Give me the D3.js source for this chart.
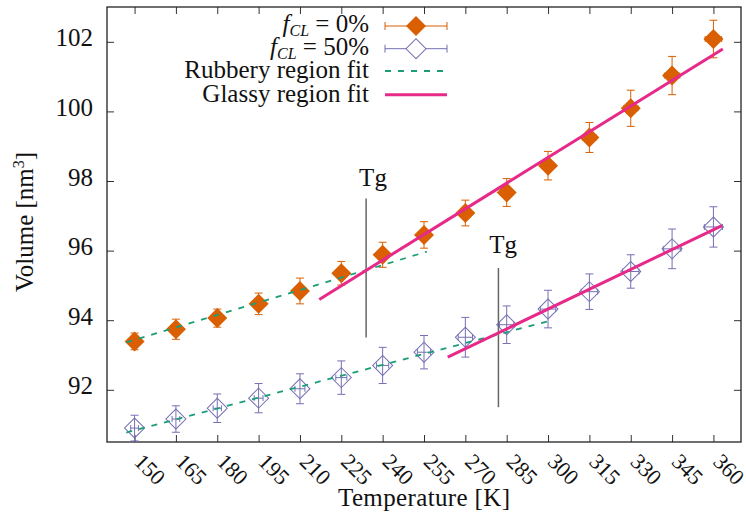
<!DOCTYPE html>
<html>
<head>
<meta charset="utf-8">
<script src="https://cdn.jsdelivr.net/npm/d3@7"></script>
<style>
  body { margin: 0; background: #fff; }
</style>
</head>
<body>
<svg width="746" height="517"></svg>
<script>
// values
const temps   = [150, 165, 180, 195, 210, 225, 240, 255, 270, 285, 300, 315, 330, 345, 360];
const vol0    = [93.39, 93.74, 94.06, 94.47, 94.84, 95.35, 95.88, 96.45, 97.08, 97.67, 98.44, 99.25, 100.09, 101.03, 102.08];
const err0    = [0.24, 0.29, 0.26, 0.31, 0.37, 0.34, 0.36, 0.38, 0.37, 0.40, 0.41, 0.43, 0.52, 0.55, 0.54];
const xerr0   = [1.0, 1.1, 1.2, 1.3, 1.4, 1.6, 1.7, 1.9, 2.0, 2.2, 2.3, 2.5, 2.6, 2.8, 3.0];
const vol50   = [90.90, 91.16, 91.47, 91.76, 92.03, 92.35, 92.70, 93.08, 93.51, 93.87, 94.32, 94.82, 95.40, 96.05, 96.68];
const err50   = [0.37, 0.38, 0.41, 0.42, 0.43, 0.48, 0.52, 0.48, 0.57, 0.54, 0.54, 0.51, 0.48, 0.57, 0.58];
const xerr50  = [1.4, 1.4, 1.5, 1.6, 1.8, 2.0, 2.2, 2.4, 2.6, 2.6, 2.8, 3.0, 3.0, 3.2, 3.3];
const yTicks  = [92, 94, 96, 98, 100, 102];

// linear fits: [intercept, slope, Tstart, Tend]
const rubberyFit = [[89.85, 0.0239, 147, 256], [87.70, 0.0209, 147, 302]];
const glassyFit  = [[83.93, 0.04915, 217, 363.4], [82.92, 0.0380, 263.6, 363.1]];
// Tg markers: temperature, bottom, top
const tgTemp  = [234, 282];
const tgRange = [[93.5, 97.5], [91.5, 95.5]];
const tgLabel = [[236.5, 97.86], [283.7, 95.94]];

const colOrange = "#d95f02", colPurple = "#7570b3", colGreen = "#1b9e77", colPink = "#e7298a";
const serif = "'Liberation Serif', 'Times New Roman', serif";

const svg    = d3.select("svg").style("font-family", serif),
      margin = {top: 7, right: 5, bottom: 75, left: 107},
      width  = +svg.attr("width")  - margin.left - margin.right,
      height = +svg.attr("height") - margin.top  - margin.bottom,
      x      = d3.scaleLinear().domain([140, 370]).range([0, width]),
      y      = d3.scaleLinear().domain([90.5, 103]).range([height, 0]),
      g      = svg.append("g").attr("transform", `translate(${margin.left},${margin.top})`);

svg.insert("rect", ":first-child").attr("width", 746).attr("height", 517).attr("fill", "#fff");

// axes, ticks pointing inward on all four sides
const xb = g.append("g").attr("transform", `translate(0,${height})`)
  .call(d3.axisBottom(x).tickValues(temps).tickSize(-7).tickFormat(d3.format("d")));
xb.selectAll("text")
  .attr("x", null).attr("y", null).attr("dy", null)
  .attr("text-anchor", "start")
  .attr("transform", "translate(-2,21) rotate(45)")
  .style("font-size", "22px");

g.append("g").call(d3.axisTop(x).tickValues(temps).tickSize(-7).tickFormat(""));

g.append("g")
  .call(d3.axisLeft(y).tickValues(yTicks).tickSize(-7).tickPadding(14))
  .selectAll("text").attr("dy", "0.16em").style("font-size", "25px");

g.append("g").attr("transform", `translate(${width},0)`)
  .call(d3.axisRight(y).tickValues(yTicks).tickSize(-7).tickFormat(""));

g.selectAll(".domain").remove();
g.selectAll(".tick line").attr("stroke", "#333");
g.append("rect").attr("width", width).attr("height", height)
  .attr("fill", "none").attr("stroke", "#222").attr("stroke-width", 1.3);

// axis titles
const yl = svg.append("text")
  .attr("transform", "translate(33,222) rotate(-90)")
  .attr("text-anchor", "middle").style("font-size", "25px");
yl.append("tspan").text("Volume [nm");
yl.append("tspan").attr("dy", -9).style("font-size", "16px").text("3");
yl.append("tspan").attr("dy", 9).text("]");

svg.append("text")
  .attr("x", 424).attr("y", 506)
  .attr("text-anchor", "middle").style("font-size", "25px")
  .attr("textLength", 172).attr("lengthAdjust", "spacing")
  .text("Temperature [K]");

// fit lines
const fitLine = (f, color, dash, w) => {
  g.append("line")
    .attr("x1", x(f[2])).attr("y1", y(f[0] + f[1] * f[2]))
    .attr("x2", x(f[3])).attr("y2", y(f[0] + f[1] * f[3]))
    .attr("stroke", color).attr("stroke-width", w)
    .attr("stroke-dasharray", dash);
};

// Tg markers
tgTemp.forEach((t, i) => {
  g.append("line")
    .attr("x1", x(t)).attr("x2", x(t))
    .attr("y1", y(tgRange[i][0])).attr("y2", y(tgRange[i][1]))
    .attr("stroke", "#666").attr("stroke-width", 1.5);
  g.append("text")
    .attr("x", x(tgLabel[i][0])).attr("y", y(tgLabel[i][1]))
    .attr("text-anchor", "middle").style("font-size", "25px")
    .text("Tg");
});

const diamond = d3.symbol(d3.symbolSquare, 200);

function series(vals, errs, xerrs, color, filled) {
  const data = temps.map((t, i) => ({t, v: vals[i], e: errs[i], xe: xerrs[i]}));
  const s = g.append("g").attr("stroke", color).attr("stroke-width", 1).attr("fill", "none");
  const pts = s.selectAll("g").data(data).enter().append("g");
  pts.append("line")
    .attr("x1", d => x(d.t)).attr("x2", d => x(d.t))
    .attr("y1", d => y(d.v - d.e)).attr("y2", d => y(d.v + d.e));
  [-1, 1].forEach(k => {
    pts.append("line")
      .attr("x1", d => x(d.t) - 4).attr("x2", d => x(d.t) + 4)
      .attr("y1", d => y(d.v + k * d.e)).attr("y2", d => y(d.v + k * d.e));
    pts.append("line")
      .attr("x1", d => x(d.t + k * d.xe)).attr("x2", d => x(d.t + k * d.xe))
      .attr("y1", d => y(d.v) - 3).attr("y2", d => y(d.v) + 3);
  });
  pts.append("line")
    .attr("x1", d => x(d.t - d.xe)).attr("x2", d => x(d.t + d.xe))
    .attr("y1", d => y(d.v)).attr("y2", d => y(d.v));
  pts.append("path")
    .attr("d", diamond)
    .attr("transform", d => `translate(${x(d.t)},${y(d.v)}) rotate(45)`)
    .attr("fill", filled ? color : "none")
    .attr("stroke", filled ? "none" : color);
}

series(vol0, err0, xerr0, colOrange, true);
series(vol50, err50, xerr50, colPurple, false);

rubberyFit.forEach(f => fitLine(f, colGreen, "6,7", 1.8));
glassyFit.forEach(f => fitLine(f, colPink, null, 3));

// legend
const legY = [26, 48.7, 71, 94.7], lx0 = 385 - margin.left, lx1 = 447 - margin.left, ltx = 369 - margin.left;
const leg = g.append("g").attr("transform", `translate(0,${-margin.top})`);

const fLabel = (yy, pct) => {
  const t = leg.append("text").attr("x", ltx).attr("y", yy + 6)
    .attr("text-anchor", "end").style("font-size", "25px");
  t.append("tspan").style("font-style", "italic").text("f");
  t.append("tspan").style("font-style", "italic").style("font-size", "16px")
    .attr("dy", 4).text("CL");
  t.append("tspan").attr("dy", -4).text(` = ${pct}%`);
};

[[colOrange, true, "0"], [colPurple, false, "50"]].forEach(([c, filled, pct], i) => {
  const yy = legY[i];
  fLabel(yy, pct);
  const lg = leg.append("g").attr("stroke", c).attr("stroke-width", 1);
  lg.append("line").attr("x1", lx0).attr("x2", lx1).attr("y1", yy).attr("y2", yy);
  lg.append("line").attr("x1", lx0).attr("x2", lx0).attr("y1", yy - 4).attr("y2", yy + 4);
  lg.append("line").attr("x1", lx1).attr("x2", lx1).attr("y1", yy - 4).attr("y2", yy + 4);
  lg.append("path").attr("d", diamond)
    .attr("transform", `translate(${(lx0 + lx1) / 2},${yy}) rotate(45)`)
    .attr("fill", filled ? c : "#fff").attr("stroke", filled ? "none" : c);
});

[["Rubbery region fit", colGreen, "6,7", 1.8], ["Glassy region fit", colPink, null, 3]].forEach(([lab, c, dash, w], i) => {
  const yy = legY[i + 2];
  leg.append("text").attr("x", ltx).attr("y", yy + 7)
    .attr("text-anchor", "end").style("font-size", "25px").text(lab);
  leg.append("line").attr("x1", lx0).attr("x2", lx1).attr("y1", yy).attr("y2", yy)
    .attr("stroke", c).attr("stroke-width", w).attr("stroke-dasharray", dash);
});

// d3 axes set their own sans-serif family; hand the serif face to every text
svg.selectAll("g").attr("font-family", null);
svg.selectAll("text").style("font-family", serif).attr("fill", "#111");
</script>
</body>
</html>
